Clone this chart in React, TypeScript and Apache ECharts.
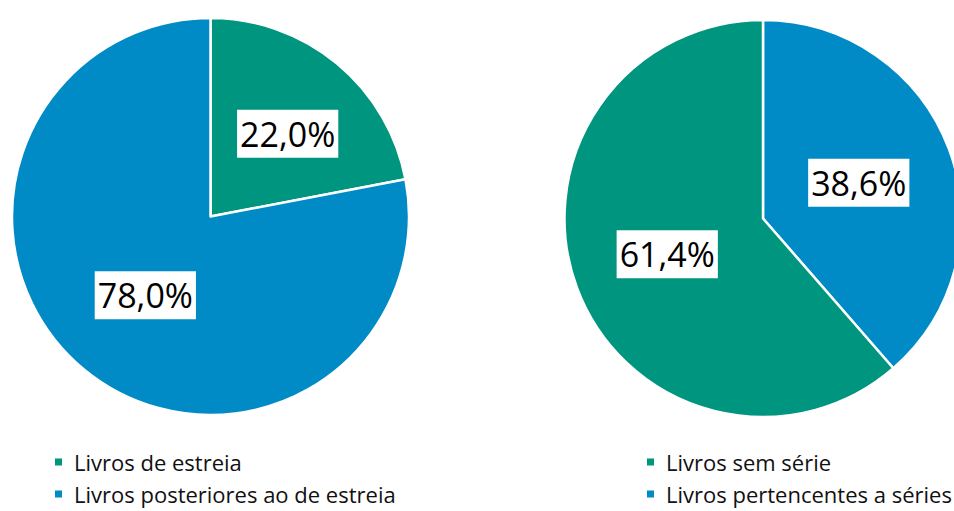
import React, { useEffect, useRef } from "react";
import * as echarts from "echarts";

const TEAL = "#00957f";
const BLUE = "#008ac6";

const leftNames = ["Livros de estreia", "Livros posteriores ao de estreia"];
const leftValues = [22.0, 78.0];
const leftColors = [TEAL, BLUE];

const rightNames = ["Livros pertencentes a séries", "Livros sem série"];
const rightValues = [38.6, 61.4];
const rightColors = [BLUE, TEAL];
const rightLegendOrder = ["Livros sem série", "Livros pertencentes a séries"];

const fmt = (v: number) => v.toFixed(1).replace(".", ",") + "%";

export default function App() {
  const ref = useRef<HTMLDivElement>(null);
  useEffect(() => {
    document.body.style.margin = "0";
    const chart = echarts.init(ref.current!, null, { renderer: "svg" });
    const label = {
      show: true,
      position: "inside" as const,
      formatter: (p: any) => fmt(p.value),
      color: "#000",
      fontFamily: "Open Sans",
      fontSize: 34,
      backgroundColor: "#fff",
      padding: [4, 3, 3, 3],
      lineHeight: 41,
    };
    const legendText = { fontFamily: "Open Sans", fontSize: 22, color: "#111", padding: [0, 0, 0, 6] };
    chart.setOption({
      animation: false,
      backgroundColor: "#fff",
      legend: [
        {
          data: leftNames,
          orient: "vertical",
          left: 48,
          top: 446,
          icon: "rect",
          itemWidth: 9,
          itemHeight: 9,
          itemGap: 10,
          textStyle: legendText,
          selectedMode: false,
        },
        {
          data: rightLegendOrder,
          orient: "vertical",
          left: 640,
          top: 446,
          icon: "rect",
          itemWidth: 9,
          itemHeight: 9,
          itemGap: 10,
          textStyle: legendText,
          selectedMode: false,
        },
      ],
      series: [
        {
          type: "pie",
          center: [210.5, 216.5],
          radius: [0, 198.5],
          startAngle: 90,
          clockwise: true,
          itemStyle: { borderColor: "#fff", borderWidth: 2.5 },
          label,
          labelLine: { show: false },
          labelLayout: (p: any) => (p.dataIndex === 0 ? { dx: 12, dy: -4 } : {}),
          emphasis: { disabled: true },
          data: leftNames.map((n, i) => ({ name: n, value: leftValues[i], itemStyle: { color: leftColors[i] } })),
        },
        {
          type: "pie",
          center: [763, 218.5],
          radius: [0, 198.5],
          startAngle: 90,
          clockwise: true,
          itemStyle: { borderColor: "#fff", borderWidth: 2.5 },
          label,
          labelLine: { show: false },
          emphasis: { disabled: true },
          data: rightNames.map((n, i) => ({ name: n, value: rightValues[i], itemStyle: { color: rightColors[i] } })),
        },
      ],
    });
    return () => chart.dispose();
  }, []);
  return <div ref={ref} style={{ position: "fixed", left: 0, top: 0, width: 954, height: 511 }} />;
}
